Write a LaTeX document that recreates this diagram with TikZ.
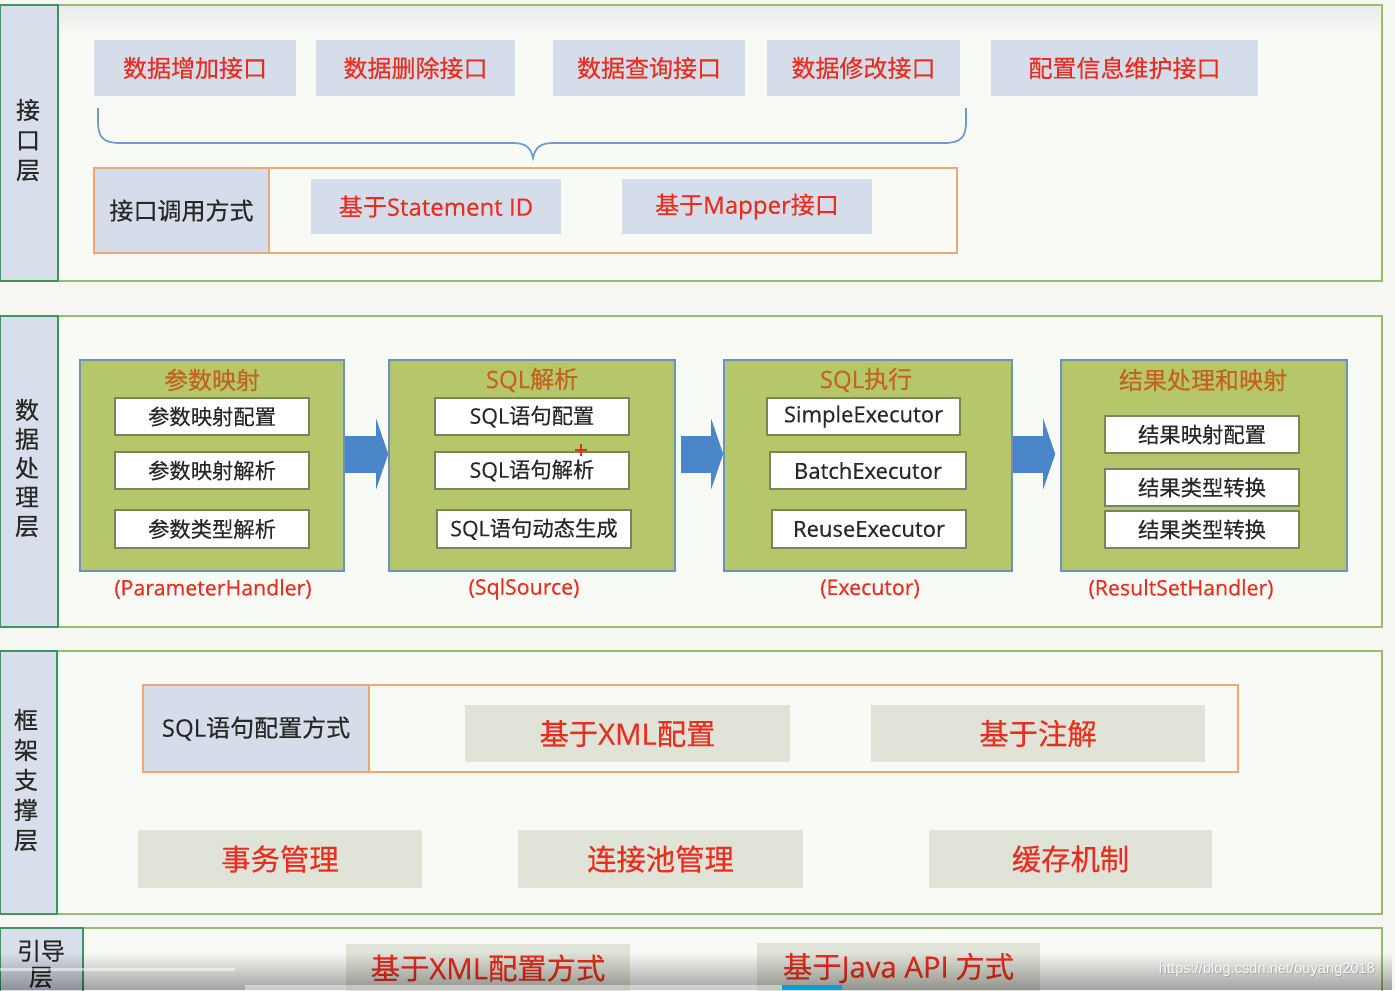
\documentclass[tikz,border=0pt]{standalone}
\usepackage{fontspec}
\setmainfont[FakeBold=0.35]{Noto Sans CJK SC}
\newfontfamily\lat[FakeBold=0.35]{Open Sans}
\newfontfamily\lsans{Liberation Sans}
\usetikzlibrary{fit,arrows.meta,fadings}
\newcommand\setfs[2]{\fontsize{#1}{#2}\selectfont}
\definecolor{bg}{RGB}{246,247,243}
\definecolor{pgreen}{RGB}{150,190,110}
\definecolor{dgreen}{RGB}{60,150,100}
\definecolor{pfill}{RGB}{248,250,246}
\definecolor{lfill}{RGB}{216,223,234}
\definecolor{bfill}{RGB}{214,221,234}
\definecolor{tred}{RGB}{235,45,30}
\definecolor{dtext}{RGB}{40,40,40}
\definecolor{orng}{RGB}{245,165,110}
\definecolor{olive}{RGB}{181,198,107}
\definecolor{gbord}{RGB}{110,145,190}
\definecolor{wbord}{RGB}{120,135,90}
\definecolor{ttl}{RGB}{195,100,30}
\definecolor{beigefill}{RGB}{224,227,216}
\definecolor{ablue}{RGB}{74,134,200}
\definecolor{bracec}{RGB}{110,155,210}
\definecolor{pbarblue}{RGB}{0,161,214}
\tikzset{
 panel/.style={draw=pgreen, line width=1.5pt, fill=pfill, inner sep=0pt},
 lcol/.style={draw=dgreen, line width=1.2pt, fill=lfill, inner sep=0pt},
 ltext/.style={text=dtext, align=center, inner sep=0pt},
 ibox/.style={fill=bfill, inner sep=0pt},
 obox/.style={draw=orng, line width=1.2pt, inner sep=0pt},
 ocell/.style={draw=orng, line width=1.2pt, fill=bfill, inner sep=0pt},
 gbox/.style={draw=gbord, line width=1.2pt, fill=olive, inner sep=0pt},
 wbox/.style={draw=wbord, line width=0.9pt, fill=white, inner sep=0pt},
 beige/.style={fill=beigefill, inner sep=0pt},
 redt/.style={text=tred, inner sep=0pt, font=\setfs{18}{18}},
 darkt/.style={text=dtext, inner sep=0pt, font=\setfs{18}{18}},
 subt/.style={text=dtext, inner sep=0pt, font=\setfs{16}{16}},
 subl/.style={text=dtext, inner sep=0pt, font=\lat\setfs{16.5}{16.5}},
 bigred/.style={text=tred, inner sep=0pt, font=\setfs{22}{22}},
 gtitle/.style={text=ttl, inner sep=0pt, font=\setfs{18}{18}},
 hlabel/.style={text=tred, inner sep=0pt, font=\lat\setfs{16}{16}},
 flow/.style={draw=ablue, line width=27.75pt, -{Triangle[length=9pt,width=52.5pt]}},
 bracepath/.style={draw=bracec, line width=1.3pt}
}
\begin{document}
\begin{tikzpicture}[x=0.75pt,y=-0.75pt]
\useasboundingbox (0,0) rectangle (1395,990);
\clip (0,0) rectangle (1395,990);
\fill[bg] (0,0) rectangle (1395,990);

% ---------- Layer 1 : 接口层 ----------
\node[panel, fit={(0,5)(1382,281)}] (P1) {};
\shade[top color=gray!16, bottom color=pfill] (1,6) rectangle (1380,34);
\node[lcol, fit={(0,5)(58,281)}] (L1) {};
\node[ltext, font=\setfs{18}{22.5}] (L1t) at (28,140) {接\\口\\层};

\node[ibox, fit={(94,40)(296,96)}] (i1) {};
\node[redt] (i1t) at (i1) {数据增加接口};
\node[ibox, fit={(316,40)(515,96)}] (i2) {};
\node[redt] (i2t) at (i2) {数据删除接口};
\node[ibox, fit={(553,40)(745,96)}] (i3) {};
\node[redt] (i3t) at (i3) {数据查询接口};
\node[ibox, fit={(767,40)(960,96)}] (i4) {};
\node[redt] (i4t) at (i4) {数据修改接口};
\node[ibox, fit={(991,40)(1258,96)}] (i5) {};
\node[redt] (i5t) at (i5) {配置信息维护接口};

\coordinate (bl) at (98,108);
\coordinate (br) at (966,108);
\coordinate (btip) at (533,158);
\draw[bracepath] (bl) -- (98,122) .. controls (98,138) and (104,143) .. (120,143) -- (513,143)
  .. controls (526,143) and (531,148) .. (btip) .. controls (535,148) and (540,143) .. (553,143)
  -- (944,143) .. controls (960,143) and (966,138) .. (966,122) -- (br);

\node[obox, fit={(94,168)(957,253)}] (call) {};
\node[ocell, fit={(94,168)(269,253)}] (callL) {};
\node[darkt] (callLt) at (callL) {接口调用方式};
\node[ibox, fit={(311,179)(561,234)}] (sid) {};
\node[redt] (sidt) at (sid) {基于{\lat Statement ID}};
\node[ibox, fit={(622,179)(872,234)}] (mapper) {};
\node[redt] (mappert) at (mapper) {基于{\lat Mapper}接口};

% ---------- Layer 2 : 数据处理层 ----------
\node[panel, fit={(0,316)(1382,627)}] (P2) {};
\node[lcol, fit={(0,316)(58,627)}] (L2) {};
\node[ltext, font=\setfs{18}{21.75}] (L2t) at (27,468) {数\\据\\处\\理\\层};

\node[gbox, fit={(80,360)(344,571)}] (g1) {};
\node[gtitle] (g1t) at (212,380) {参数映射};
\node[wbox, fit={(115,398)(309,435)}] (g1a) {};
\node[subt] at (g1a) {参数映射配置};
\node[wbox, fit={(115,452)(309,489)}] (g1b) {};
\node[subt] at (g1b) {参数映射解析};
\node[wbox, fit={(115,510)(309,548)}] (g1c) {};
\node[subt] at (g1c) {参数类型解析};
\node[hlabel] (h1) at (213,589) {(ParameterHandler)};

\node[gbox, fit={(389,360)(675,571)}] (g2) {};
\node[gtitle] (g2t) at (532,380) {{\lat SQL}解析};
\node[wbox, fit={(435,398)(629,435)}] (g2a) {};
\node[subt] at (g2a) {{\lat SQL}语句配置};
\node[wbox, fit={(435,452)(629,489)}] (g2b) {};
\node[subt] at (g2b) {{\lat SQL}语句解析};
\node[wbox, fit={(437,510)(631,548)}] (g2c) {};
\node[subt] at (g2c) {{\lat SQL}语句动态生成};
\node[hlabel] (h2) at (524,589) {(SqlSource)};
\coordinate (cur) at (581,450);
\draw[tred, line width=1.5pt] ([xshift=-4.5pt]cur) -- ([xshift=4.5pt]cur);
\draw[tred, line width=1.5pt] ([yshift=-4.5pt]cur) -- ([yshift=4.5pt]cur);

\node[gbox, fit={(724,360)(1012,571)}] (g3) {};
\node[gtitle] (g3t) at (866,380) {{\lat SQL}执行};
\node[wbox, fit={(767,398)(960,435)}] (g3a) {};
\node[subl] at (g3a) {SimpleExecutor};
\node[wbox, fit={(770,452)(966,489)}] (g3b) {};
\node[subl] at (g3b) {BatchExecutor};
\node[wbox, fit={(772,510)(966,548)}] (g3c) {};
\node[subl] at (g3c) {ReuseExecutor};
\node[hlabel] (h3) at (870,589) {(Executor)};

\node[gbox, fit={(1061,360)(1347,571)}] (g4) {};
\node[gtitle] (g4t) at (1203,380) {结果处理和映射};
\node[wbox, fit={(1105,416)(1299,453)}] (g4a) {};
\node[subt] at (g4a) {结果映射配置};
\node[wbox, fit={(1105,469)(1299,506)}] (g4b) {};
\node[subt] at (g4b) {结果类型转换};
\node[wbox, fit={(1105,511)(1299,548)}] (g4c) {};
\node[subt] at (g4c) {结果类型转换};
\node[hlabel] (h4) at (1181,589) {(ResultSetHandler)};

\coordinate (ay) at (0,454);
\draw[flow] (g1.east |- ay) -- (g2.west |- ay);
\draw[flow, shorten <=3.75pt] (g2.east |- ay) -- (g3.west |- ay);
\draw[flow, shorten >=3.75pt] (g3.east |- ay) -- (g4.west |- ay);

% ---------- Layer 3 : 框架支撑层 ----------
\node[panel, fit={(0,651)(1382,914)}] (P3) {};
\node[lcol, fit={(0,651)(57,914)}] (L3) {};
\node[ltext, font=\setfs{18}{22.5}] (L3t) at (26,780) {框\\架\\支\\撑\\层};

\node[obox, fit={(143,685)(1238,772)}] (sqlcfg) {};
\node[ocell, fit={(143,685)(369,772)}] (sqlcfgL) {};
\node[darkt] at (sqlcfgL) {{\lat SQL}语句配置方式};
\node[beige, fit={(465,705)(790,762)}] (xmlcfg) {};
\node[bigred] at (xmlcfg) {基于{\lat XML}配置};
\node[beige, fit={(871,705)(1205,762)}] (anno) {};
\node[bigred] at (anno) {基于注解};

\node[beige, fit={(138,830)(422,888)}] (tx) {};
\node[bigred] at (tx) {事务管理};
\node[beige, fit={(518,830)(803,888)}] (pool) {};
\node[bigred] at (pool) {连接池管理};
\node[beige, fit={(929,830)(1212,888)}] (cache) {};
\node[bigred] at (cache) {缓存机制};

% ---------- Layer 4 : 引导层 ----------
\node[panel, fit={(0,928)(1382,1005)}] (P4) {};
\node[lcol, fit={(0,928)(83,1005)}] (L4) {};
\node[ltext, font=\setfs{18}{19.5}] (L4t) at (41,964) {引导\\层};
\node[beige, fit={(346,944)(630,992)}] (boot1) {};
\node[bigred] at (boot1) {基于{\lat XML}配置方式};
\node[beige, fit={(757,943)(1040,993)}] (boot2) {};
\node[bigred] at (boot2) {基于{\lat Java API} 方式};

% ---------- player overlay ----------
\fill[black, opacity=0.35, path fading=north] (0,952) rectangle (1395,990);
\fill[white, opacity=0.5] (0,968) rectangle (235,971);
\fill[white, opacity=0.45] (245,985) rectangle (782,990);
\fill[pbarblue] (782,985) rectangle (842,990);
\node[text=black!35, font=\lsans\setfs{11}{11}, inner sep=0pt] at (1267.8,970.8) {https://blog.csdn.net/ouyang2018};
\node[text=white!94!gray, font=\lsans\setfs{11}{11}, inner sep=0pt] (wm) at (1267,970) {https://blog.csdn.net/ouyang2018};
\end{tikzpicture}
\end{document}
